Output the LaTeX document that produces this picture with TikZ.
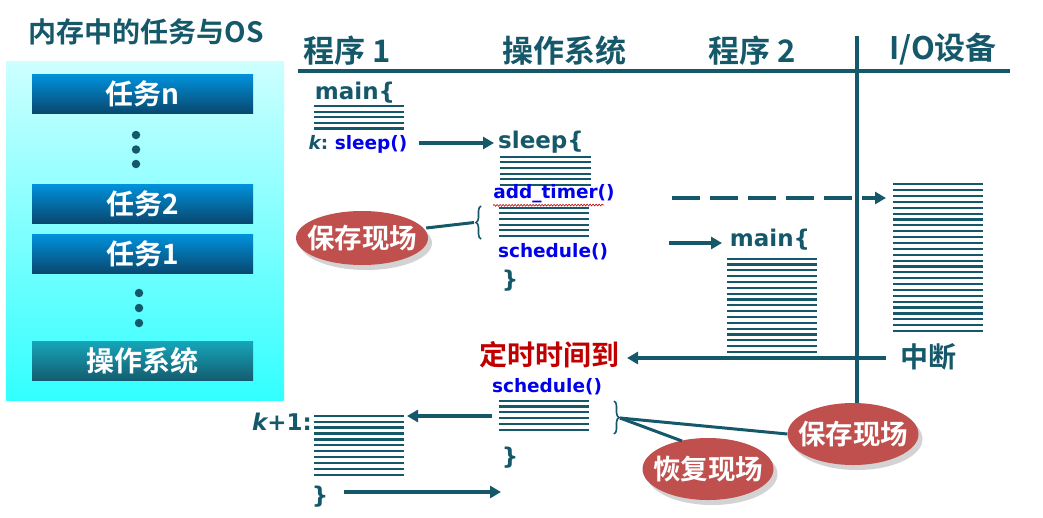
\documentclass[tikz,border=0pt]{standalone}
\usepackage{fontspec}
\setmainfont{DejaVu Sans}
\newfontfamily\cjk{Noto Sans CJK SC}[BoldFont={* Bold}]
\usetikzlibrary{arrows.meta,shadows,shapes.geometric,decorations.pathmorphing,decorations.pathreplacing}
\definecolor{tealc}{RGB}{20,88,106}
\definecolor{codeblue}{RGB}{0,0,235}
\definecolor{bubred}{RGB}{192,80,77}
\definecolor{alarmred}{RGB}{192,0,0}
\begin{document}
\begin{tikzpicture}[x=1pt,y=-1pt,
  hdr/.style={font=\cjk\bfseries\fontsize{31}{31}\selectfont, text=tealc, inner sep=0pt},
  big/.style={font=\bfseries\fontsize{23}{23}\selectfont, text=tealc, inner sep=0pt},
  code/.style={font=\bfseries\fontsize{18.5}{18.5}\selectfont, text=codeblue, inner sep=0pt},
  task/.style={minimum width=221pt, minimum height=39pt, inner sep=0pt, top color={rgb,255:red,0;green,146;blue,220}, bottom color={rgb,255:red,8;green,72;blue,112}, text=white, font=\cjk\bfseries\fontsize{28}{28}\selectfont},
  osbox/.style={task, top color={rgb,255:red,22;green,165;blue,185}, bottom color={rgb,255:red,20;green,92;blue,112}},
  bubble/.style={ellipse, fill=bubred, inner xsep=-9pt, inner ysep=0pt, text=white, font=\cjk\bfseries\fontsize{27.5}{27.5}\selectfont, drop shadow={opacity=0.35, shadow xshift=4pt, shadow yshift=-5pt}},
  brc/.style={draw=tealc, line width=1.6pt, decorate, decoration={brace, amplitude=5pt}},
  stk/.style={draw=tealc, line width=2.2pt},
  arr/.style={draw=tealc, line width=3.6pt, -{Triangle[length=11pt,width=12pt]}},
  conn/.style={draw=tealc, line width=3pt},
  rule/.style={draw=tealc, line width=4pt},
  dot/.style={circle, fill=tealc, minimum size=8.5pt, inner sep=0pt}
]
\useasboundingbox (0,0) rectangle (1043,517);

% ---------- left panel ----------
\node[hdr, font=\cjk\bfseries\fontsize{28}{28}\selectfont] (title) at (146,32) {内存中的任务与OS};
\node[rectangle, minimum width=278pt, minimum height=339pt, inner sep=0pt,
      top color={rgb,255:red,205;green,255;blue,255}, bottom color={rgb,255:red,50;green,255;blue,255}] (mem) at (145,230.5) {};
\node[task] (tn) at (142.5,93.5) {任务n};
\node[dot] (d1) at (136,135) {};
\node[dot] (d2) at (136,149.5) {};
\node[dot] (d3) at (136,164) {};
\node[task] (t2) at (142.5,203.5) {任务2};
\node[task] (t1) at (142.5,253.5) {任务1};
\node[dot] (d4) at (139,293) {};
\node[dot] (d5) at (139,308) {};
\node[dot] (d6) at (139,323) {};
\node[osbox] (os) at (142.5,361) {操作系统};

% ---------- headers ----------
\node[hdr] (h1) at (347,51) {程序 1};
\node[hdr] (h2) at (564,51) {操作系统};
\node[hdr] (h3) at (752,51) {程序 2};
\node[hdr] (h4) at (943,49) {I/O设备};
\coordinate (hl) at (298,70.5);
\coordinate (hr) at (1010,70.5);
\draw[rule] (hl) -- (hr);
\coordinate (vt) at (857,36);
\coordinate (vb) at (857,403);
\draw[rule] (vt) -- (vb);

% ---------- program 1 ----------
\node[big] (m1) at (355,93) {main\{};
\foreach \i in {0,...,4} \draw[stk] (314,106+5.6*\i) -- (404,106+5.6*\i);
\node[inner sep=0pt] (ks) at (358,144) {{\bfseries\fontsize{18.5}{18.5}\selectfont\color{tealc}\itshape k\upshape:~\color{codeblue}sleep()}};

% ---------- OS: sleep ----------
\node[big] (sl) at (541,142.5) {sleep\{};
\foreach \i in {0,...,5} \draw[stk] (500,156.7+5.66*\i) -- (591,156.7+5.66*\i);
\node[code] (at) at (554,194) {add\_timer()};
\draw[alarmred, line width=0.6pt, decorate, decoration={snake, amplitude=0.9pt, segment length=3pt}] (at.south west) ++(0,2) coordinate (sq1) -- (604,205);
\foreach \i in {0,...,5} \draw[stk] (499,207.7+5.66*\i) -- (589,207.7+5.66*\i);
\coordinate (lbb) at (481,239);
\coordinate (lbt) at (481,206);
\draw[brc] (lbb) -- (lbt);
\coordinate (lbtip) at (474,222.5);
\node[code] (sc1) at (553,252) {schedule()};
\node[big] (rb1) at (510,281) {\}};

% bubble 1
\node[bubble, minimum width=132pt, minimum height=54pt] (sv1) at (362,238) {保存现场};
\draw[conn] (sv1.east) ++(-2,-10) coordinate (c1) -- (lbtip);

% arrows top
\coordinate (a1s) at (419,143);
\coordinate (a1e) at (494,143);
\draw[arr] (a1s) -- (a1e);
\coordinate (a2s) at (672,198);
\coordinate (a2e) at (886,198);
\draw[arr, dash pattern=on 28pt off 10pt] (a2s) -- (a2e);
\coordinate (a3s) at (669,243);
\coordinate (a3e) at (722,243);
\draw[arr] (a3s) -- (a3e);

% ---------- program 2 ----------
\node[big] (m2) at (770,240) {main\{};
\foreach \i in {0,...,16} \draw[stk] (727,258.7+5.83*\i) -- (817,258.7+5.83*\i);

% ---------- I/O ----------
\foreach \i in {0,...,25} \draw[stk] (893,184.3+5.87*\i) -- (983,184.3+5.87*\i);
\node[hdr, font=\cjk\bfseries\fontsize{28}{28}\selectfont] (zd) at (928,357) {中断};
\coordinate (a4s) at (886,358);
\coordinate (a4e) at (627,358);
\draw[arr] (a4s) -- (a4e);

% ---------- bottom OS ----------
\node[hdr, text=alarmred, font=\cjk\bfseries\fontsize{28}{28}\selectfont] (ds) at (549,355) {定时时间到};
\node[code] (sc2) at (547,387) {schedule()};
\foreach \i in {0,...,5} \draw[stk] (499,400.7+5.8*\i) -- (589,400.7+5.8*\i);
\node[big] (rb2) at (510,458) {\}};
\coordinate (rbt) at (614,401);
\coordinate (rbb) at (614,434);
\draw[brc] (rbt) -- (rbb);

% k+1
\node[inner sep=0pt] (k1) at (282,422) {{\bfseries\fontsize{23}{23}\selectfont\color{tealc}\itshape k\upshape+1:}};
\foreach \i in {0,...,10} \draw[stk] (314,415.7+5.93*\i) -- (404,415.7+5.93*\i);
\node[big] (rb4) at (320,497) {\}};
\coordinate (a5s) at (492,416);
\coordinate (a5e) at (407,416);
\draw[arr] (a5s) -- (a5e);
\coordinate (a6s) at (344,492);
\coordinate (a6e) at (501,492);
\draw[arr] (a6s) -- (a6e);

% bubbles bottom
\node[bubble, minimum width=131pt, minimum height=62pt] (hf) at (708,469) {恢复现场};
\node[bubble, minimum width=131pt, minimum height=62pt] (sv2) at (853,434) {保存现场};
\coordinate (bt) at (620,418);
\draw[conn] (bt) -- (sv2.west);
\draw[conn] (bt) -- (682,441);
\end{tikzpicture}
\end{document}
